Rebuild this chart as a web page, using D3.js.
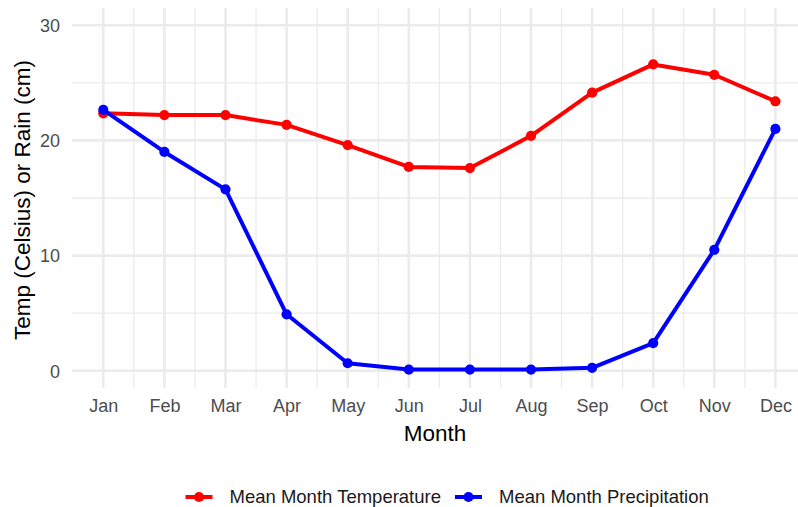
<!DOCTYPE html>
<html>
<head>
<meta charset="utf-8">
<script src="https://cdn.jsdelivr.net/npm/d3@7"></script>
<style>
  body { margin: 0; background: #fff; }
  text { font-family: "Liberation Sans", Arial, sans-serif; }
</style>
</head>
<body>
<script>
var months = ["Jan", "Feb", "Mar", "Apr", "May", "Jun", "Jul", "Aug", "Sep", "Oct", "Nov", "Dec"];
var temperature = [22.35, 22.2, 22.2, 21.35, 19.6, 17.7, 17.6, 20.4, 24.15, 26.6, 25.7, 23.4];
var precipitation = [22.65, 19.0, 15.75, 4.9, 0.65, 0.1, 0.1, 0.1, 0.25, 2.4, 10.5, 21.0];
var yTicks = [0, 10, 20, 30];
var yMinor = [5, 15, 25];
var seriesNames = ["Mean Month Temperature", "Mean Month Precipitation"];
var seriesColors = ["#FF0000", "#0000FF"];

function plot() {
  var width = 798, height = 507;
  var left = 72, right = 798, top = 8, bottom = 388;

  var svg = d3.select("body").append("svg")
      .attr("width", width)
      .attr("height", height);

  var x = d3.scalePoint()
      .domain(months)
      .range([103.3, 775.4]);
  var step = x.step();

  var y = d3.scaleLinear()
      .domain([-1.5, 31.5])
      .range([bottom, top]);

  var grid = svg.append("g").attr("class", "grid");

  // minor grid
  grid.selectAll("line.yminor")
    .data(yMinor)
    .enter().append("line")
      .attr("x1", left).attr("x2", right)
      .attr("y1", function(d) { return y(d); })
      .attr("y2", function(d) { return y(d); })
      .attr("stroke", "#EBEBEB").attr("stroke-width", 1.3);

  grid.selectAll("line.xminor")
    .data(months.slice(1))
    .enter().append("line")
      .attr("x1", function(d) { return x(d) - step / 2; })
      .attr("x2", function(d) { return x(d) - step / 2; })
      .attr("y1", top).attr("y2", bottom)
      .attr("stroke", "#EBEBEB").attr("stroke-width", 1.3);

  // major grid
  grid.selectAll("line.ymajor")
    .data(yTicks)
    .enter().append("line")
      .attr("x1", left).attr("x2", right)
      .attr("y1", function(d) { return y(d); })
      .attr("y2", function(d) { return y(d); })
      .attr("stroke", "#EBEBEB").attr("stroke-width", 2.6);

  grid.selectAll("line.xmajor")
    .data(months)
    .enter().append("line")
      .attr("x1", function(d) { return x(d); })
      .attr("x2", function(d) { return x(d); })
      .attr("y1", top).attr("y2", bottom)
      .attr("stroke", "#EBEBEB").attr("stroke-width", 2.6);

  // axes (text only, theme_minimal style)
  var xAxis = svg.append("g")
      .attr("transform", "translate(0," + (bottom + 5) + ")")
      .call(d3.axisBottom(x).tickSize(0).tickPadding(6));
  xAxis.select(".domain").remove();
  xAxis.selectAll("text")
      .attr("fill", "#4D4D4D")
      .style("font-size", "18px");

  var yAxis = svg.append("g")
      .attr("transform", "translate(" + (left - 4) + ",0)")
      .call(d3.axisLeft(y).tickValues(yTicks).tickSize(0).tickPadding(8));
  yAxis.select(".domain").remove();
  yAxis.selectAll("text")
      .attr("fill", "#4D4D4D")
      .attr("dy", "0.35em")
      .style("font-size", "18px");

  svg.append("text")
      .attr("x", (left + right) / 2)
      .attr("y", 441)
      .attr("text-anchor", "middle")
      .style("font-size", "22.5px")
      .text("Month");

  svg.append("text")
      .attr("transform", "translate(30," + ((top + bottom) / 2 + 2) + ") rotate(-90)")
      .attr("text-anchor", "middle")
      .style("font-size", "22.5px")
      .text("Temp (Celsius) or Rain (cm)");

  // series
  var series = [temperature, precipitation];
  var line = d3.line()
      .x(function(d, i) { return x(months[i]); })
      .y(function(d) { return y(d); });

  series.forEach(function(vals, k) {
    var g = svg.append("g");
    g.append("path")
        .datum(vals)
        .attr("d", line)
        .attr("fill", "none")
        .attr("stroke", seriesColors[k])
        .attr("stroke-width", 4)
        .attr("stroke-linejoin", "round");
    g.selectAll("circle")
      .data(vals)
      .enter().append("circle")
        .attr("cx", function(d, i) { return x(months[i]); })
        .attr("cy", function(d) { return y(d); })
        .attr("r", 5.1)
        .attr("fill", seriesColors[k]);
  });

  // legend
  var legendX = [185.5, 455];
  var legend = svg.append("g");
  seriesNames.forEach(function(name, k) {
    var lg = legend.append("g")
        .attr("transform", "translate(" + legendX[k] + ",497)");
    lg.append("line")
        .attr("x1", 0).attr("x2", 27)
        .attr("y1", 0).attr("y2", 0)
        .attr("stroke", seriesColors[k])
        .attr("stroke-width", 4);
    lg.append("circle")
        .attr("cx", 13.5).attr("cy", 0)
        .attr("r", 5.1)
        .attr("fill", seriesColors[k]);
    lg.append("text")
        .attr("x", 44)
        .attr("y", 0)
        .attr("dy", "0.35em")
        .style("font-size", "18.5px")
        .attr("fill", "#1A1A1A")
        .text(name);
  });
}

plot();
</script>
</body>
</html>
